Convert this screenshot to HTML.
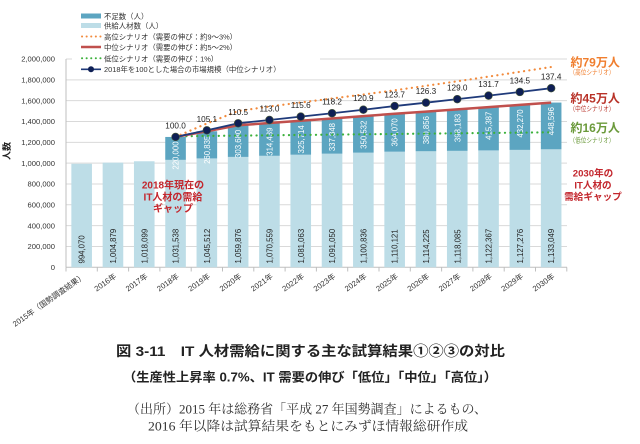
<!DOCTYPE html>
<html><head><meta charset="utf-8"><style>
html,body{margin:0;padding:0;background:#fff;}
svg{display:block;}
text{font-family:"Liberation Sans","Noto Sans CJK JP",sans-serif;}
.serif{font-family:"Liberation Serif","Noto Serif CJK SC",serif;}
</style></head><body>
<svg width="640" height="444" viewBox="0 0 640 444" xmlns="http://www.w3.org/2000/svg">
<rect width="640" height="444" fill="#fff"/>
<!-- gridlines -->
<g stroke="#d9d9d9" stroke-width="1">
<line x1="66" y1="246.47" x2="567" y2="246.47"/>
<line x1="66" y1="225.64" x2="567" y2="225.64"/>
<line x1="66" y1="204.81" x2="567" y2="204.81"/>
<line x1="66" y1="183.98" x2="567" y2="183.98"/>
<line x1="66" y1="163.15" x2="567" y2="163.15"/>
<line x1="66" y1="142.32" x2="567" y2="142.32"/>
<line x1="66" y1="121.49" x2="567" y2="121.49"/>
<line x1="66" y1="100.66" x2="567" y2="100.66"/>
<line x1="66" y1="79.83" x2="567" y2="79.83"/>
<line x1="66" y1="59" x2="567" y2="59"/>
</g>
<!-- axes -->
<line x1="66" y1="59" x2="66" y2="267.3" stroke="#bfbfbf"/>
<line x1="66" y1="267.3" x2="567" y2="267.3" stroke="#bfbfbf"/>
<g stroke="#bfbfbf">
<line x1="66" y1="267.3" x2="66" y2="271.5"/><line x1="97.3" y1="267.3" x2="97.3" y2="271.5"/><line x1="128.6" y1="267.3" x2="128.6" y2="271.5"/><line x1="159.9" y1="267.3" x2="159.9" y2="271.5"/><line x1="191.2" y1="267.3" x2="191.2" y2="271.5"/><line x1="222.5" y1="267.3" x2="222.5" y2="271.5"/><line x1="253.8" y1="267.3" x2="253.8" y2="271.5"/><line x1="285.1" y1="267.3" x2="285.1" y2="271.5"/><line x1="316.4" y1="267.3" x2="316.4" y2="271.5"/><line x1="347.7" y1="267.3" x2="347.7" y2="271.5"/><line x1="379" y1="267.3" x2="379" y2="271.5"/><line x1="410.3" y1="267.3" x2="410.3" y2="271.5"/><line x1="441.6" y1="267.3" x2="441.6" y2="271.5"/><line x1="472.9" y1="267.3" x2="472.9" y2="271.5"/><line x1="504.2" y1="267.3" x2="504.2" y2="271.5"/><line x1="535.5" y1="267.3" x2="535.5" y2="271.5"/><line x1="566.8" y1="267.3" x2="566.8" y2="271.5"/>
</g>
<!-- y tick labels -->
<g font-size="7.6" fill="#333" text-anchor="end">
<text x="55" y="270">0</text>
<text x="55" y="249.2">200,000</text>
<text x="55" y="228.4">400,000</text>
<text x="55" y="207.5">600,000</text>
<text x="55" y="186.7">800,000</text>
<text x="55" y="165.9">1,000,000</text>
<text x="55" y="145">1,200,000</text>
<text x="55" y="124.2">1,400,000</text>
<text x="55" y="103.4">1,600,000</text>
<text x="55" y="82.5">1,800,000</text>
<text x="55" y="61.7">2,000,000</text>
</g>
<text transform="translate(10,151) rotate(-90)" font-size="9" font-weight="bold" fill="#222" text-anchor="middle">人数</text>
<!-- legend box -->
<rect x="72" y="4" width="248" height="72" fill="#fff"/>
<!-- supply bars -->
<g fill="#bddde7">
<rect x="71.35" y="163.77" width="20.6" height="103.53"/>
<rect x="102.65" y="162.64" width="20.6" height="104.66"/>
<rect x="133.95" y="161.27" width="20.6" height="106.03"/>
<rect x="165.25" y="159.87" width="20.6" height="107.43"/>
<rect x="196.55" y="158.41" width="20.6" height="108.89"/>
<rect x="227.85" y="156.91" width="20.6" height="110.39"/>
<rect x="259.15" y="155.80" width="20.6" height="111.50"/>
<rect x="290.45" y="154.71" width="20.6" height="112.59"/>
<rect x="321.75" y="153.67" width="20.6" height="113.63"/>
<rect x="353.05" y="152.65" width="20.6" height="114.65"/>
<rect x="384.35" y="151.68" width="20.6" height="115.62"/>
<rect x="415.65" y="151.25" width="20.6" height="116.05"/>
<rect x="446.95" y="150.85" width="20.6" height="116.45"/>
<rect x="478.25" y="150.41" width="20.6" height="116.89"/>
<rect x="509.55" y="149.89" width="20.6" height="117.41"/>
<rect x="540.85" y="149.29" width="20.6" height="118.01"/>
</g>
<!-- shortage bars -->
<g fill="#5ca5c1">
<rect x="165.25" y="136.95" width="20.6" height="22.92"/>
<rect x="196.55" y="131.24" width="20.6" height="27.17"/>
<rect x="227.85" y="125.29" width="20.6" height="31.62"/>
<rect x="259.15" y="123.05" width="20.6" height="32.75"/>
<rect x="290.45" y="120.78" width="20.6" height="33.93"/>
<rect x="321.75" y="118.48" width="20.6" height="35.19"/>
<rect x="353.05" y="116.14" width="20.6" height="36.51"/>
<rect x="384.35" y="113.76" width="20.6" height="37.92"/>
<rect x="415.65" y="111.59" width="20.6" height="39.66"/>
<rect x="446.95" y="109.38" width="20.6" height="41.47"/>
<rect x="478.25" y="107.14" width="20.6" height="43.27"/>
<rect x="509.55" y="104.87" width="20.6" height="45.02"/>
<rect x="540.85" y="102.57" width="20.6" height="46.72"/>
</g>
<!-- supply labels -->
<g font-size="7.8" fill="#222">
<text transform="translate(84.65,263.5) rotate(-90)">994,070</text>
<text transform="translate(115.95,263.5) rotate(-90)">1,004,879</text>
<text transform="translate(147.25,263.5) rotate(-90)">1,018,099</text>
<text transform="translate(178.55,263.5) rotate(-90)">1,031,538</text>
<text transform="translate(209.85,263.5) rotate(-90)">1,045,512</text>
<text transform="translate(241.15,263.5) rotate(-90)">1,059,876</text>
<text transform="translate(272.45,263.5) rotate(-90)">1,070,559</text>
<text transform="translate(303.75,263.5) rotate(-90)">1,081,063</text>
<text transform="translate(335.05,263.5) rotate(-90)">1,091,050</text>
<text transform="translate(366.35,263.5) rotate(-90)">1,100,836</text>
<text transform="translate(397.65,263.5) rotate(-90)">1,110,121</text>
<text transform="translate(428.95,263.5) rotate(-90)">1,114,225</text>
<text transform="translate(460.25,263.5) rotate(-90)">1,118,085</text>
<text transform="translate(491.55,263.5) rotate(-90)">1,122,367</text>
<text transform="translate(522.85,263.5) rotate(-90)">1,127,276</text>
<text transform="translate(554.15,263.5) rotate(-90)">1,133,049</text>
</g>
<!-- shortage labels -->
<g font-size="7.8" fill="#fff" text-anchor="end">
<text transform="translate(178.55,141.45) rotate(-90)">220,000</text>
<text transform="translate(209.85,135.74) rotate(-90)">260,835</text>
<text transform="translate(241.15,129.79) rotate(-90)">303,680</text>
<text transform="translate(272.45,127.55) rotate(-90)">314,439</text>
<text transform="translate(303.75,125.28) rotate(-90)">325,714</text>
<text transform="translate(335.05,122.98) rotate(-90)">337,848</text>
<text transform="translate(366.35,120.64) rotate(-90)">350,532</text>
<text transform="translate(397.65,118.26) rotate(-90)">364,070</text>
<text transform="translate(428.95,116.09) rotate(-90)">380,856</text>
<text transform="translate(460.25,113.88) rotate(-90)">398,183</text>
<text transform="translate(491.55,111.64) rotate(-90)">415,387</text>
<text transform="translate(522.85,109.37) rotate(-90)">432,270</text>
<text transform="translate(554.15,107.07) rotate(-90)">448,596</text>
</g>
<!-- lines -->
<line x1="175.55" y1="136.3" x2="551.15" y2="132.3" stroke="#3cb13c" stroke-width="2.2" stroke-linecap="round" stroke-dasharray="0.1 5.3"/>
<polyline fill="none" stroke="#c0504d" stroke-width="2.5" points="175.55,136.95 206.85,131.24 238.15,125.29 269.45,123.05 300.75,120.78 332.05,118.48 363.35,116.14 394.65,113.76 425.95,111.59 457.25,109.38 488.55,107.14 519.85,104.87 551.15,102.57"/>
<polyline fill="none" stroke="#f28a3c" stroke-width="2.2" stroke-linecap="round" stroke-dasharray="0.1 5.3" points="175.55,136.95 206.85,123.5 238.15,111 269.45,106.5 300.75,102.5 332.05,98.5 363.35,94.5 394.65,90.3 425.95,85.8 457.25,81.3 488.55,76.6 519.85,71.8 551.15,67"/>
<polyline fill="none" stroke="#1f3a7a" stroke-width="1.8" points="175.55,136.95 206.85,130.30 238.15,123.27 269.45,120.01 300.75,116.62 332.05,113.23 363.35,109.71 394.65,106.06 425.95,102.67 457.25,99.15 488.55,95.63 519.85,91.98 551.15,88.20"/>
<g fill="#0e1f55" stroke="#4a5a3a" stroke-width="0.6">
<circle cx="175.55" cy="136.95" r="3.9"/><circle cx="206.85" cy="130.30" r="3.9"/><circle cx="238.15" cy="123.27" r="3.9"/><circle cx="269.45" cy="120.01" r="3.9"/><circle cx="300.75" cy="116.62" r="3.9"/><circle cx="332.05" cy="113.23" r="3.9"/><circle cx="363.35" cy="109.71" r="3.9"/><circle cx="394.65" cy="106.06" r="3.9"/><circle cx="425.95" cy="102.67" r="3.9"/><circle cx="457.25" cy="99.15" r="3.9"/><circle cx="488.55" cy="95.63" r="3.9"/><circle cx="519.85" cy="91.98" r="3.9"/><circle cx="551.15" cy="88.20" r="3.9"/>
</g>
<!-- index labels -->
<g font-size="8.2" fill="#222" text-anchor="middle">
<text x="175.55" y="128.4">100.0</text>
<text x="206.85" y="121.8">105.1</text>
<text x="238.15" y="114.8">110.5</text>
<text x="269.45" y="111.5">113.0</text>
<text x="300.75" y="108.1">115.6</text>
<text x="332.05" y="104.7">118.2</text>
<text x="363.35" y="101.2">120.9</text>
<text x="394.65" y="97.6">123.7</text>
<text x="425.95" y="94.2">126.3</text>
<text x="457.25" y="90.7">129.0</text>
<text x="488.55" y="87.1">131.7</text>
<text x="519.85" y="83.5">134.5</text>
<text x="551.15" y="79.7">137.4</text>
</g>
<!-- x labels -->
<g font-size="7.7" fill="#333" text-anchor="end">
<text transform="translate(85.65,277.5) rotate(-35)">2015年（国勢調査結果）</text>
<text transform="translate(116.95,277.5) rotate(-35)">2016年</text>
<text transform="translate(148.25,277.5) rotate(-35)">2017年</text>
<text transform="translate(179.55,277.5) rotate(-35)">2018年</text>
<text transform="translate(210.85,277.5) rotate(-35)">2019年</text>
<text transform="translate(242.15,277.5) rotate(-35)">2020年</text>
<text transform="translate(273.45,277.5) rotate(-35)">2021年</text>
<text transform="translate(304.75,277.5) rotate(-35)">2022年</text>
<text transform="translate(336.05,277.5) rotate(-35)">2023年</text>
<text transform="translate(367.35,277.5) rotate(-35)">2024年</text>
<text transform="translate(398.65,277.5) rotate(-35)">2025年</text>
<text transform="translate(429.95,277.5) rotate(-35)">2026年</text>
<text transform="translate(461.25,277.5) rotate(-35)">2027年</text>
<text transform="translate(492.55,277.5) rotate(-35)">2028年</text>
<text transform="translate(523.85,277.5) rotate(-35)">2029年</text>
<text transform="translate(555.15,277.5) rotate(-35)">2030年</text>
</g>
<!-- legend -->
<rect x="81" y="13.5" width="20" height="5" fill="#5ca5c1"/>
<rect x="81" y="23" width="20" height="5" fill="#bddde7"/>
<line x1="82" y1="36.5" x2="101" y2="36.5" stroke="#f28a3c" stroke-width="2" stroke-linecap="round" stroke-dasharray="0.1 4.5"/>
<line x1="81" y1="47" x2="101" y2="47" stroke="#c0504d" stroke-width="2.5"/>
<line x1="82" y1="58.3" x2="101" y2="58.3" stroke="#3cb13c" stroke-width="2" stroke-linecap="round" stroke-dasharray="0.1 4.5"/>
<line x1="81" y1="69.3" x2="101" y2="69.3" stroke="#1f3a7a" stroke-width="1.6"/>
<circle cx="91" cy="69.3" r="3" fill="#0e1f55"/>
<g font-size="7.4" fill="#333">
<text x="104" y="18.8">不足数（人）</text>
<text x="104" y="28.4">供給人材数（人）</text>
<text x="104" y="39.6">高位シナリオ（需要の伸び：約9～3%）</text>
<text x="104" y="50">中位シナリオ（需要の伸び：約5～2%）</text>
<text x="104" y="61.5">低位シナリオ（需要の伸び：1%）</text>
<text x="104" y="72.2">2018年を100とした場合の市場規模（中位シナリオ）</text>
</g>
<!-- right annotations -->
<g font-weight="bold" font-size="12">
<text x="570.5" y="66.3" fill="#f07e2e">約79万人</text>
<text x="570.5" y="102.7" fill="#b83228">約45万人</text>
<text x="570.5" y="132.2" fill="#6b9a3b">約16万人</text>
</g>
<g font-size="7">
<text x="569.5" y="74.4" fill="#f07e2e" textLength="45" lengthAdjust="spacingAndGlyphs">（高位シナリオ）</text>
<text x="569.5" y="110.9" fill="#b83228" textLength="45" lengthAdjust="spacingAndGlyphs">（中位シナリオ）</text>
<text x="569.5" y="142.7" fill="#6b9a3b" textLength="45" lengthAdjust="spacingAndGlyphs">（低位シナリオ）</text>
</g>
<g font-weight="bold" font-size="9.6" fill="#c3262d" text-anchor="middle">
<text x="593" y="176.5">2030年の</text>
<text x="593" y="188.3">IT人材の</text>
<text x="593" y="200">需給ギャップ</text>
</g>
<g font-weight="bold" font-size="10" fill="#c3262d" text-anchor="middle">
<text x="173" y="188.6">2018年現在の</text>
<text x="173" y="200.3">IT人材の需給</text>
<text x="173" y="211.9">ギャップ</text>
</g>
<!-- captions -->
<text x="116" y="356" font-size="14" font-weight="bold" fill="#222" textLength="389" lengthAdjust="spacingAndGlyphs">図 3-11　IT 人材需給に関する主な試算結果①②③の対比</text>
<text x="123" y="381.5" font-size="12.5" font-weight="bold" fill="#222" textLength="374" lengthAdjust="spacingAndGlyphs">（生産性上昇率 0.7%、IT 需要の伸び「低位」「中位」「高位」）</text>
<text class="serif" x="127" y="413.5" font-size="13" fill="#333" textLength="360" lengthAdjust="spacingAndGlyphs">（出所）2015 年は総務省「平成 27 年国勢調査」によるもの、</text>
<text class="serif" x="148" y="430.5" font-size="13" fill="#333" textLength="320" lengthAdjust="spacingAndGlyphs">2016 年以降は試算結果をもとにみずほ情報総研作成</text>
</svg>
</body></html>
